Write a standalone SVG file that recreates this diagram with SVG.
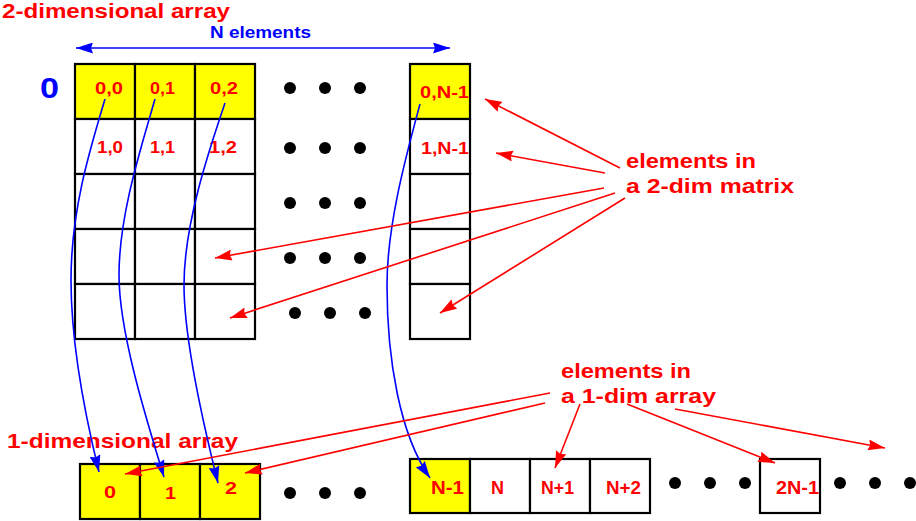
<svg xmlns="http://www.w3.org/2000/svg" width="916" height="521" viewBox="0 0 916 521">
<style>
.cell{stroke:#000;stroke-width:2.2;}
.y{fill:#ffff00;}
.w{fill:#ffffff;}
.lbl{font-family:"Liberation Sans",Arial,sans-serif;font-weight:bold;fill:#ff0000;}
.c16{font-size:16px;}
.c18{font-size:18px;}
.big{font-size:21px;}
.blue{fill:#0000ff;}
.dot{fill:#000;}
.ra{stroke:#ff0000;stroke-width:1.6;fill:none;marker-end:url(#rh);}
.ba{stroke:#0000ff;stroke-width:1.6;fill:none;marker-end:url(#bh);}
</style>
<defs>
<marker id="rh" markerUnits="userSpaceOnUse" markerWidth="18" markerHeight="11" refX="17" refY="5.5" orient="auto">
<path d="M0,0 L17,5.5 L0,11 L2,5.5 z" fill="#ff0000"/>
</marker>
<marker id="bh" markerUnits="userSpaceOnUse" markerWidth="18" markerHeight="11" refX="17" refY="5.5" orient="auto-start-reverse">
<path d="M0,0 L17,5.5 L0,11 L2,5.5 z" fill="#0000ff"/>
</marker>
</defs>
<rect width="916" height="521" fill="#fff"/>

<g id="title-2d"><text class="lbl big" x="2" y="18" textLength="228" lengthAdjust="spacingAndGlyphs">2-dimensional array</text></g>
<g id="n-elements"><text class="lbl blue" style="font-size:16px" x="210" y="38" textLength="101" lengthAdjust="spacingAndGlyphs">N elements</text></g>
<g id="row-zero"><text class="lbl blue" style="font-size:29px" x="40" y="98" textLength="19" lengthAdjust="spacingAndGlyphs">0</text></g>

<g id="matrix">
<rect class="cell y" x="75" y="64" width="60" height="55"/>
<rect class="cell y" x="135" y="64" width="60" height="55"/>
<rect class="cell y" x="195" y="64" width="60" height="55"/>
<rect class="cell w" x="75" y="119" width="60" height="55"/>
<rect class="cell w" x="135" y="119" width="60" height="55"/>
<rect class="cell w" x="195" y="119" width="60" height="55"/>
<rect class="cell w" x="75" y="174" width="60" height="55"/>
<rect class="cell w" x="135" y="174" width="60" height="55"/>
<rect class="cell w" x="195" y="174" width="60" height="55"/>
<rect class="cell w" x="75" y="229" width="60" height="55"/>
<rect class="cell w" x="135" y="229" width="60" height="55"/>
<rect class="cell w" x="195" y="229" width="60" height="55"/>
<rect class="cell w" x="75" y="284" width="60" height="55"/>
<rect class="cell w" x="135" y="284" width="60" height="55"/>
<rect class="cell w" x="195" y="284" width="60" height="55"/>
<text class="lbl c16" x="95" y="94" textLength="28" lengthAdjust="spacingAndGlyphs">0,0</text>
<text class="lbl c16" x="150" y="94" textLength="25" lengthAdjust="spacingAndGlyphs">0,1</text>
<text class="lbl c16" x="210" y="94" textLength="28" lengthAdjust="spacingAndGlyphs">0,2</text>
<text class="lbl c16" x="97" y="153" textLength="26" lengthAdjust="spacingAndGlyphs">1,0</text>
<text class="lbl c16" x="150" y="153" textLength="25" lengthAdjust="spacingAndGlyphs">1,1</text>
<text class="lbl c16" x="209" y="153" textLength="28" lengthAdjust="spacingAndGlyphs">1,2</text>
</g>

<g id="matrix-last-col">
<rect class="cell y" x="410" y="64" width="60" height="55"/>
<rect class="cell w" x="410" y="119" width="60" height="55"/>
<rect class="cell w" x="410" y="174" width="60" height="55"/>
<rect class="cell w" x="410" y="229" width="60" height="55"/>
<rect class="cell w" x="410" y="284" width="60" height="55"/>
<text class="lbl c16" x="420" y="98" textLength="49" lengthAdjust="spacingAndGlyphs">0,N-1</text>
<text class="lbl c16" x="421" y="154" textLength="48" lengthAdjust="spacingAndGlyphs">1,N-1</text>
</g>

<g id="matrix-dots">
<circle class="dot" cx="290" cy="88" r="6"/><circle class="dot" cx="325" cy="88" r="6"/><circle class="dot" cx="360" cy="88" r="6"/>
<circle class="dot" cx="290" cy="148" r="6"/><circle class="dot" cx="325" cy="148" r="6"/><circle class="dot" cx="360" cy="148" r="6"/>
<circle class="dot" cx="290" cy="203" r="6"/><circle class="dot" cx="325" cy="203" r="6"/><circle class="dot" cx="360" cy="203" r="6"/>
<circle class="dot" cx="290" cy="258" r="6"/><circle class="dot" cx="325" cy="258" r="6"/><circle class="dot" cx="360" cy="258" r="6"/>
<circle class="dot" cx="295" cy="313" r="6"/><circle class="dot" cx="330" cy="313" r="6"/><circle class="dot" cx="365" cy="313" r="6"/>
</g>

<g id="label-2dim"><text class="lbl big" x="626" y="168" textLength="130" lengthAdjust="spacingAndGlyphs">elements in</text>
<text class="lbl big" x="626" y="193" textLength="168" lengthAdjust="spacingAndGlyphs">a 2-dim matrix</text></g>

<g id="title-1d"><text class="lbl big" x="7" y="448" textLength="231" lengthAdjust="spacingAndGlyphs">1-dimensional array</text></g>

<g id="label-1dim"><text class="lbl big" x="561" y="378" textLength="130" lengthAdjust="spacingAndGlyphs">elements in</text>
<text class="lbl big" x="561" y="403" textLength="155" lengthAdjust="spacingAndGlyphs">a 1-dim array</text></g>

<g id="array-start">
<rect class="cell y" x="80" y="464" width="60" height="55"/>
<rect class="cell y" x="140" y="464" width="60" height="55"/>
<rect class="cell y" x="200" y="464" width="60" height="55"/>
<text class="lbl c16" x="104" y="498" textLength="12" lengthAdjust="spacingAndGlyphs">0</text>
<text class="lbl c16" x="165" y="499" textLength="11" lengthAdjust="spacingAndGlyphs">1</text>
<text class="lbl c16" x="225" y="494" textLength="12" lengthAdjust="spacingAndGlyphs">2</text>
</g>

<g id="array-mid">
<rect class="cell y" x="410" y="459" width="60" height="54"/>
<rect class="cell w" x="470" y="459" width="60" height="54"/>
<rect class="cell w" x="530" y="459" width="60" height="54"/>
<rect class="cell w" x="590" y="459" width="60" height="54"/>
<text class="lbl c18" x="431" y="494" textLength="33" lengthAdjust="spacingAndGlyphs">N-1</text>
<text class="lbl c18" x="491" y="494" textLength="13" lengthAdjust="spacingAndGlyphs">N</text>
<text class="lbl c18" x="541" y="494" textLength="33" lengthAdjust="spacingAndGlyphs">N+1</text>
<text class="lbl c18" x="606" y="494" textLength="35" lengthAdjust="spacingAndGlyphs">N+2</text>
</g>

<g id="array-end">
<rect class="cell w" x="760" y="459" width="60" height="54"/>
<text class="lbl c18" x="776" y="494" textLength="43" lengthAdjust="spacingAndGlyphs">2N-1</text>
</g>

<g id="array-dots">
<circle class="dot" cx="290" cy="493" r="6"/><circle class="dot" cx="325" cy="493" r="6"/><circle class="dot" cx="360" cy="493" r="6"/>
<circle class="dot" cx="675" cy="483" r="6"/><circle class="dot" cx="710" cy="483" r="6"/><circle class="dot" cx="745" cy="483" r="6"/>
<circle class="dot" cx="840" cy="483" r="6"/><circle class="dot" cx="875" cy="483" r="6"/><circle class="dot" cx="910" cy="483" r="6"/>
</g>

<g id="connectors">
<line x1="76" y1="48" x2="450" y2="48" stroke="#0000ff" stroke-width="1.6" marker-start="url(#bh)" marker-end="url(#bh)"/>
<path class="ba" d="M105,99 C90,149 71,210 71,280 C71,340 85,415 99,472"/>
<path class="ba" d="M155,99 C141,148 119,215 119,275 C119,330 144,412 164,477"/>
<path class="ba" d="M225,103 C208,153 184,225 184,285 C184,340 206,435 218,483"/>
<path class="ba" d="M420,104 C406,156 387,225 387,285 C387,360 400,435 430,478"/>
<line class="ra" x1="620" y1="168" x2="485" y2="99"/>
<line class="ra" x1="605" y1="173" x2="496" y2="153"/>
<line class="ra" x1="604" y1="188" x2="215" y2="258"/>
<line class="ra" x1="615" y1="193" x2="230" y2="318"/>
<line class="ra" x1="625" y1="198" x2="440" y2="313"/>
<line class="ra" x1="550" y1="393" x2="125" y2="474"/>
<line class="ra" x1="545" y1="403" x2="245" y2="473"/>
<line class="ra" x1="580" y1="404" x2="555" y2="468"/>
<line class="ra" x1="627" y1="404" x2="775" y2="463"/>
<line class="ra" x1="675" y1="409" x2="885" y2="448"/>
</g>
</svg>
